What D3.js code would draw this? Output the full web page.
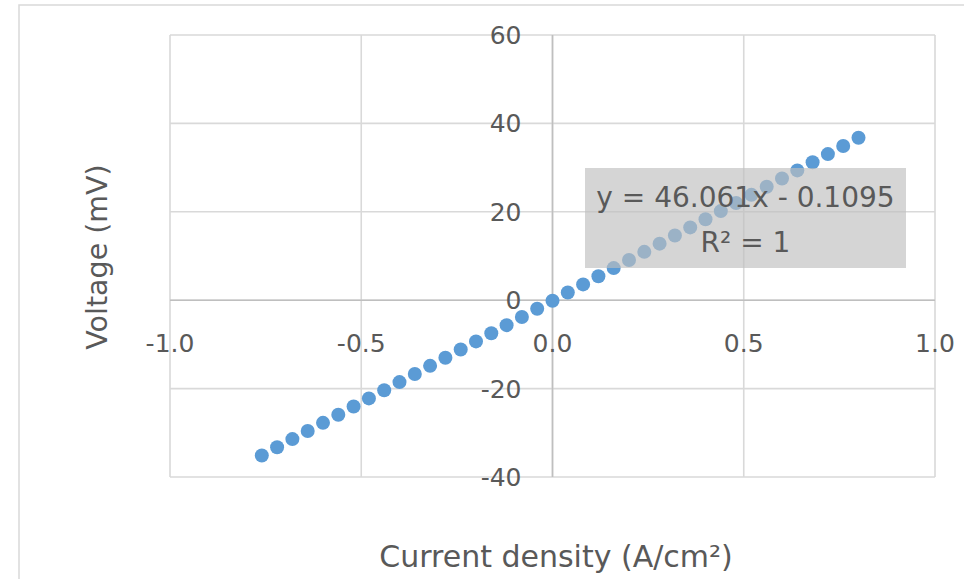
<!DOCTYPE html>
<html>
<head>
<meta charset="utf-8">
<script src="https://cdn.jsdelivr.net/npm/d3@7"></script>
<style>
  html, body { margin: 0; padding: 0; background: #ffffff; }
  svg { display: block; }
  text { font-family: "DejaVu Sans", sans-serif; fill: #595959; }
</style>
</head>
<body>
<svg id="chart" width="964" height="579"></svg>
<script>
// Measured current density (A/cm²)
const currentDensity = [
  -0.76, -0.72, -0.68, -0.64, -0.60, -0.56, -0.52, -0.48, -0.44, -0.40,
  -0.36, -0.32, -0.28, -0.24, -0.20, -0.16, -0.12, -0.08, -0.04, 0.00,
   0.04,  0.08,  0.12,  0.16,  0.20,  0.24,  0.28,  0.32,  0.36,  0.40,
   0.44,  0.48,  0.52,  0.56,  0.60,  0.64,  0.68,  0.72,  0.76,  0.80
];
// Measured voltage (mV)
const voltage = [
  -35.12, -33.27, -31.43, -29.59, -27.75, -25.90, -24.06, -22.22, -20.38, -18.53,
  -16.69, -14.85, -13.01, -11.16,  -9.32,  -7.48,  -5.64,  -3.79,  -1.95,  -0.11,
    1.73,   3.58,   5.42,   7.26,   9.10,  10.94,  12.79,  14.63,  16.47,  18.31,
   20.16,  22.00,  23.84,  25.68,  27.53,  29.37,  31.21,  33.05,  34.90,  36.74
];
const xTicks = [-1.0, -0.5, 0.0, 0.5, 1.0];
const yTicks = [-40, -20, 0, 20, 40, 60];
const trendlineLabels = ["y = 46.061x - 0.1095", "R² = 1"];
const xTitle = "Current density (A/cm²)";
const yTitle = "Voltage (mV)";

const svg = d3.select("#chart");

// chart area outline
svg.append("rect")
  .attr("x", 19).attr("y", 5)
  .attr("width", 1200).attr("height", 1200)
  .attr("fill", "#ffffff")
  .attr("stroke", "#d9d9d9").attr("stroke-width", 1.5);

const x = d3.scaleLinear().domain([-1, 1]).range([170, 935]);
const y = d3.scaleLinear().domain([-40, 60]).range([477, 35]);

// gridlines
const grid = svg.append("g");
grid.selectAll("line.v").data(xTicks).join("line")
  .attr("x1", d => x(d)).attr("x2", d => x(d))
  .attr("y1", y(60)).attr("y2", y(-40))
  .attr("stroke", "#d9d9d9")
  .attr("stroke-width", 1.6);
grid.selectAll("line.h").data(yTicks).join("line")
  .attr("y1", d => y(d)).attr("y2", d => y(d))
  .attr("x1", x(-1)).attr("x2", x(1))
  .attr("stroke", "#d9d9d9")
  .attr("stroke-width", 1.6);

// axes crossing at zero, drawn over the grid
svg.append("line")
  .attr("x1", x(-1)).attr("x2", x(1)).attr("y1", y(0)).attr("y2", y(0))
  .attr("stroke", "#bfbfbf").attr("stroke-width", 1.6);
svg.append("line")
  .attr("x1", x(0)).attr("x2", x(0)).attr("y1", y(60)).attr("y2", y(-40))
  .attr("stroke", "#bfbfbf").attr("stroke-width", 1.6);

// data points
const points = currentDensity.map((c, i) => ({ c, v: voltage[i] }));
svg.append("g").selectAll("circle").data(points).join("circle")
  .attr("cx", d => x(d.c))
  .attr("cy", d => y(d.v))
  .attr("r", 7)
  .attr("fill", "#5b9bd5");

// tick labels
svg.append("g").selectAll("text").data(xTicks).join("text")
  .attr("x", d => x(d))
  .attr("y", y(0) + 52)
  .attr("text-anchor", "middle")
  .attr("font-size", 25)
  .text(d => d.toFixed(1));

svg.append("g").selectAll("text").data(yTicks).join("text")
  .attr("x", x(0) - 31)
  .attr("y", d => y(d) + 9)
  .attr("text-anchor", "end")
  .attr("font-size", 25)
  .text(d => String(d));

// trendline label box
const box = svg.append("g");
box.append("rect")
  .attr("x", 585).attr("y", 168)
  .attr("width", 321).attr("height", 100)
  .attr("fill", "#bfbfbf").attr("fill-opacity", 0.65);
box.selectAll("text").data(trendlineLabels).join("text")
  .attr("x", 745.5)
  .attr("y", (d, i) => 207 + i * 45)
  .attr("text-anchor", "middle")
  .attr("font-size", 28)
  .text(d => d);

// axis titles
svg.append("text")
  .attr("x", 556).attr("y", 567)
  .attr("text-anchor", "middle")
  .attr("font-size", 30)
  .text(xTitle);

svg.append("text")
  .attr("transform", "translate(107,257) rotate(-90)")
  .attr("text-anchor", "middle")
  .attr("font-size", 28.5)
  .text(yTitle);
</script>
</body>
</html>
